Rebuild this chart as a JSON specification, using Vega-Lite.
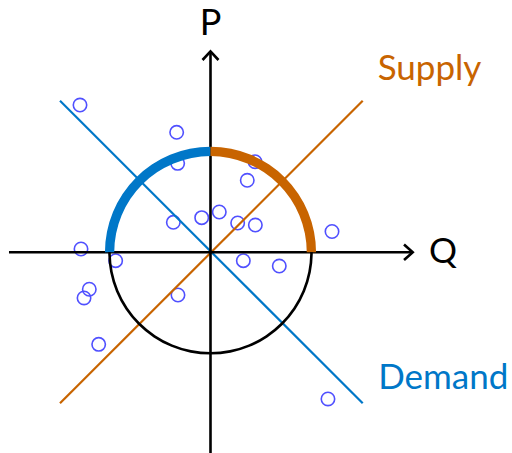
{
  "$schema": "https://vega.github.io/schema/vega-lite/v6.json",
  "width": 512,
  "height": 453,
  "padding": 0,
  "autosize": {"type": "none"},
  "background": "white",
  "config": {"view": {"stroke": null}},
  "encoding": {
    "x": {"field": "q", "type": "quantitative", "scale": {"domain": [-2.084, 2.985], "nice": false, "zero": false}, "axis": null},
    "y": {"field": "p", "type": "quantitative", "scale": {"domain": [-1.987, 2.498], "nice": false, "zero": false}, "axis": null}
  },
  "layer": [
    {
      "data": {"values": [
        {"q": -1.292, "p": 1.458}, {"q": -0.335, "p": 1.188}, {"q": -0.325, "p": 0.881},
        {"q": 0.364, "p": 0.713}, {"q": 0.441, "p": 0.897}, {"q": -0.368, "p": 0.297},
        {"q": -0.087, "p": 0.343}, {"q": 0.087, "p": 0.399}, {"q": 0.269, "p": 0.29},
        {"q": 0.444, "p": 0.27}, {"q": 0.325, "p": -0.083}, {"q": 0.681, "p": -0.136},
        {"q": 1.203, "p": 0.206}, {"q": -1.282, "p": 0.033}, {"q": -0.939, "p": -0.083},
        {"q": -1.2, "p": -0.366}, {"q": -1.252, "p": -0.452}, {"q": -0.322, "p": -0.423},
        {"q": -1.107, "p": -0.911}, {"q": 1.163, "p": -1.452}
      ]},
      "mark": {"type": "point", "shape": "circle", "filled": false, "size": 180, "stroke": "#5050FF", "strokeWidth": 1.6, "opacity": 1}
    },
    {
      "data": {"values": [
        {"name": "Demand", "q": -1.49, "p": 1.5, "o": 0},
        {"name": "Demand", "q": 1.507, "p": -1.495, "o": 1},
        {"name": "Supply", "q": -1.49, "p": -1.495, "o": 0},
        {"name": "Supply", "q": 1.507, "p": 1.5, "o": 1}
      ]},
      "mark": {"type": "line", "strokeWidth": 2.2},
      "encoding": {
        "color": {"field": "name", "type": "nominal", "scale": {"domain": ["Demand", "Supply", "black"], "range": ["#0077C8", "#C86400", "#000000"]}, "legend": null},
        "order": {"field": "o", "type": "quantitative"}
      }
    },
    {
      "data": {"values": [
        {"seg": "qaxis", "q": -1.995, "p": 0, "o": 0},
        {"seg": "qaxis", "q": 2.0, "p": 0, "o": 1},
        {"seg": "paxis", "q": 0, "p": -1.987, "o": 0},
        {"seg": "paxis", "q": 0, "p": 1.988, "o": 1},
        {"seg": "qarrow", "q": 1.916, "p": 0.077, "o": 0},
        {"seg": "qarrow", "q": 2.002, "p": 0, "o": 1},
        {"seg": "qarrow", "q": 1.916, "p": -0.077, "o": 2},
        {"seg": "parrow", "q": -0.079, "p": 1.904, "o": 0},
        {"seg": "parrow", "q": 0, "p": 1.99, "o": 1},
        {"seg": "parrow", "q": 0.079, "p": 1.904, "o": 2}
      ]},
      "mark": {"type": "line", "stroke": "#000000", "strokeWidth": 2.6, "strokeJoin": "miter", "strokeCap": "butt"},
      "encoding": {
        "detail": {"field": "seg", "type": "nominal"},
        "order": {"field": "o", "type": "quantitative"}
      }
    },
    {
      "data": {"values": [
        {"name": "Demand", "q": 0, "p": 0, "a0": 270, "a1": 360, "ri": 0.953, "ro": 1.045},
        {"name": "Supply", "q": 0, "p": 0, "a0": 0, "a1": 90, "ri": 0.953, "ro": 1.045},
        {"name": "black", "q": 0, "p": 0, "a0": 90, "a1": 270, "ri": 0.987, "ro": 1.013}
      ]},
      "mark": {"type": "arc"},
      "encoding": {
        "theta": {"field": "a0", "type": "quantitative", "stack": null, "scale": {"domain": [0, 360], "range": [0, 6.283185307]}},
        "theta2": {"field": "a1"},
        "radius": {"field": "ro", "type": "quantitative", "scale": {"type": "linear", "domain": [0, 1], "range": [0, 101], "zero": true}},
        "radius2": {"field": "ri"},
        "color": {"field": "name", "type": "nominal", "scale": {"domain": ["Demand", "Supply", "black"], "range": ["#0077C8", "#C86400", "#000000"]}, "legend": null}
      }
    },
    {
      "data": {"values": [
        {"label": "P", "name": "black", "q": 0, "p": 2.15, "al": "center"},
        {"label": "Q", "name": "black", "q": 2.163, "p": -0.106, "al": "left"},
        {"label": "Supply", "name": "Supply", "q": 1.655, "p": 1.706, "al": "left"},
        {"label": "Demand", "name": "Demand", "q": 1.66, "p": -1.356, "al": "left"}
      ]},
      "layer": [
        {
          "transform": [{"filter": "datum.al == 'center'"}],
          "mark": {"type": "text", "align": "center", "baseline": "alphabetic", "font": "Lato", "fontSize": 36},
          "encoding": {
            "text": {"field": "label"},
            "color": {"field": "name", "type": "nominal", "scale": {"domain": ["Demand", "Supply", "black"], "range": ["#0077C8", "#C86400", "#000000"]}, "legend": null}
          }
        },
        {
          "transform": [{"filter": "datum.al == 'left'"}],
          "mark": {"type": "text", "align": "left", "baseline": "alphabetic", "font": "Lato", "fontSize": 35},
          "encoding": {
            "text": {"field": "label"},
            "color": {"field": "name", "type": "nominal", "scale": {"domain": ["Demand", "Supply", "black"], "range": ["#0077C8", "#C86400", "#000000"]}, "legend": null}
          }
        }
      ]
    }
  ]
}
